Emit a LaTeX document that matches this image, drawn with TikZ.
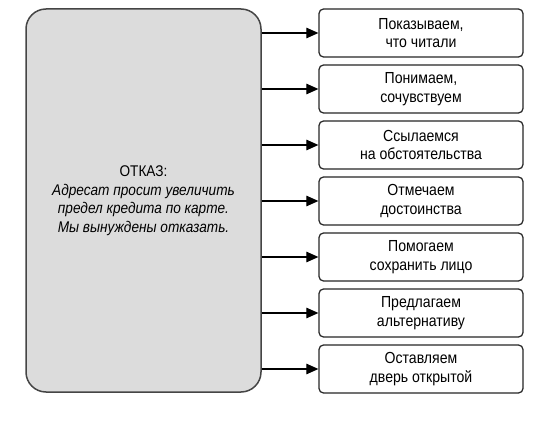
\documentclass[tikz,border=0pt]{standalone}
\usepackage{fontspec}
\setmainfont{Liberation Sans}[FakeStretch=0.88]
\usetikzlibrary{arrows.meta}
\definecolor{boxgray}{HTML}{DCDCDC}
\definecolor{edgegray}{HTML}{454545}
\begin{document}
\begin{tikzpicture}[x=1pt,y=-1pt,
  bigbox/.style={draw=edgegray,line width=1.5pt,fill=boxgray,rounded corners=20pt,
    minimum width=235pt,minimum height=383pt,inner sep=0pt,align=center,
    font=\fontsize{15.5}{18.5}\selectfont},
  stepbox/.style={draw=black!85,line width=1.25pt,rounded corners=4.5pt,fill=white,
    minimum width=204pt,minimum height=48pt,inner sep=0pt,align=center,
    font=\fontsize{16}{18.5}\selectfont},
  conn/.style={line width=1.1pt,-{Triangle[length=12pt,width=10.5pt]}}]
\useasboundingbox (0,0) rectangle (550,428);
\node[bigbox] (main) at (143.5,200.5) {ОТКАЗ:\\\itshape Адресат просит увеличить\\\itshape предел кредита по карте.\\\itshape Мы вынуждены отказать.};
\node[stepbox] (s1) at (421,33)  {Показываем,\\что читали};
\node[stepbox] (s2) at (421,89)  {Понимаем,\\сочувствуем};
\node[stepbox] (s3) at (421,145) {Ссылаемся\\на обстоятельства};
\node[stepbox] (s4) at (421,201) {Отмечаем\\достоинства};
\node[stepbox] (s5) at (421,257) {Помогаем\\сохранить лицо};
\node[stepbox] (s6) at (421,313) {Предлагаем\\альтернативу};
\node[stepbox] (s7) at (421,369) {Оставляем\\дверь открытой};
\foreach \i in {1,...,7}{
  \draw[conn] (main.east |- s\i.west) -- (s\i.west);
}
\end{tikzpicture}
\end{document}
